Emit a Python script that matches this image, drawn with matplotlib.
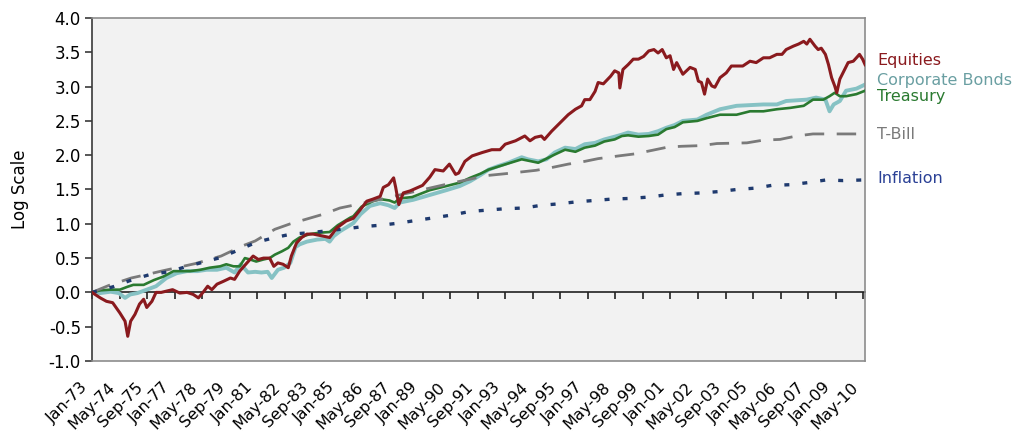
#!/usr/bin/env python3
"""
Cumulative log returns, Jan-73 .. mid-2010
Equities / Corporate Bonds / Treasury / T-Bill / Inflation
"""

import numpy as np
import matplotlib
matplotlib.use("Agg")
import matplotlib.pyplot as plt
from matplotlib.transforms import ScaledTranslation, blended_transform_factory

FIG = "out.png"
START = 1973.0   # first month on the axis (Jan-73)

# ------------------------------------------------------------------ #
# DATA  (decimal year, log value)                  #
# ------------------------------------------------------------------ #
equities = [
    (1973.0, 0.00), (1973.4, -0.08), (1973.7, -0.13), (1974.0, -0.15),
    (1974.35, -0.30), (1974.6, -0.42), (1974.73, -0.64), (1974.87, -0.42),
    (1975.08, -0.32), (1975.3, -0.17), (1975.5, -0.10), (1975.65, -0.22),
    (1975.9, -0.13), (1976.1, 0.00), (1976.35, 0.00), (1976.9, 0.04),
    (1977.25, -0.01), (1977.6, 0.00), (1977.9, -0.03), (1978.15, -0.08),
    (1978.4, 0.01), (1978.6, 0.09), (1978.8, 0.04), (1979.05, 0.12),
    (1979.35, 0.16), (1979.7, 0.21), (1979.9, 0.19), (1980.15, 0.31),
    (1980.5, 0.43), (1980.8, 0.53), (1981.05, 0.48), (1981.3, 0.50),
    (1981.6, 0.50), (1981.8, 0.38), (1982.0, 0.43), (1982.25, 0.41),
    (1982.5, 0.36), (1982.65, 0.53), (1982.9, 0.72), (1983.15, 0.80),
    (1983.4, 0.85), (1983.7, 0.85), (1984.2, 0.82), (1984.5, 0.80),
    (1984.85, 0.94), (1985.3, 1.04), (1985.65, 1.08), (1986.0, 1.21),
    (1986.3, 1.33), (1986.6, 1.36), (1986.95, 1.40), (1987.1, 1.53),
    (1987.35, 1.57), (1987.6, 1.67), (1987.7, 1.53), (1987.85, 1.28),
    (1988.07, 1.45), (1988.4, 1.48), (1988.7, 1.52), (1989.0, 1.56),
    (1989.35, 1.68), (1989.6, 1.79), (1990.0, 1.77), (1990.3, 1.87),
    (1990.6, 1.72), (1990.75, 1.74), (1991.05, 1.91), (1991.4, 1.99),
    (1991.9, 2.04), (1992.35, 2.08), (1992.75, 2.08), (1993.0, 2.16),
    (1993.5, 2.21), (1993.95, 2.28), (1994.2, 2.21), (1994.45, 2.26),
    (1994.75, 2.28), (1994.9, 2.23), (1995.25, 2.35), (1995.65, 2.47),
    (1996.05, 2.59), (1996.4, 2.67), (1996.7, 2.72), (1996.85, 2.81),
    (1997.1, 2.81), (1997.35, 2.93), (1997.5, 3.06), (1997.75, 3.04),
    (1998.1, 3.15), (1998.3, 3.23), (1998.5, 3.20), (1998.55, 2.98),
    (1998.7, 3.25), (1998.95, 3.32), (1999.2, 3.40), (1999.45, 3.40),
    (1999.7, 3.44), (1999.95, 3.52), (2000.2, 3.54), (2000.4, 3.49),
    (2000.6, 3.54), (2000.8, 3.42), (2000.98, 3.45), (2001.15, 3.25),
    (2001.3, 3.35), (2001.6, 3.18), (2001.95, 3.28), (2002.2, 3.25),
    (2002.35, 3.08), (2002.5, 3.06), (2002.65, 2.89), (2002.8, 3.11),
    (2003.0, 3.01), (2003.15, 2.99), (2003.4, 3.13), (2003.7, 3.20),
    (2003.95, 3.30), (2004.3, 3.30), (2004.5, 3.30), (2004.85, 3.37),
    (2005.15, 3.35), (2005.5, 3.42), (2005.8, 3.42), (2006.15, 3.47),
    (2006.4, 3.47), (2006.6, 3.54), (2006.95, 3.59), (2007.2, 3.62),
    (2007.45, 3.66), (2007.6, 3.62), (2007.75, 3.69), (2008.0, 3.59),
    (2008.15, 3.54), (2008.3, 3.56), (2008.5, 3.47), (2008.65, 3.32),
    (2008.8, 3.13), (2008.95, 3.01), (2009.05, 2.91), (2009.2, 3.11),
    (2009.35, 3.20), (2009.6, 3.35), (2009.85, 3.37), (2010.0, 3.42),
    (2010.15, 3.47), (2010.3, 3.40), (2010.42, 3.32),
]

corporate = [
    (1973.0, 0.00), (1973.4, -0.01), (1973.9, 0.01), (1974.3, -0.01),
    (1974.6, -0.08), (1974.85, -0.03), (1975.2, -0.01), (1975.65, 0.04),
    (1976.1, 0.09), (1976.6, 0.21), (1977.1, 0.28), (1977.6, 0.31),
    (1978.1, 0.31), (1978.55, 0.33), (1979.05, 0.33), (1979.5, 0.36),
    (1979.9, 0.29), (1980.2, 0.41), (1980.55, 0.29), (1980.9, 0.30),
    (1981.2, 0.29), (1981.5, 0.30), (1981.7, 0.21), (1982.0, 0.33),
    (1982.3, 0.36), (1982.6, 0.43), (1982.85, 0.66), (1983.05, 0.70),
    (1983.4, 0.74), (1983.9, 0.77), (1984.3, 0.78), (1984.5, 0.74),
    (1984.7, 0.82), (1985.0, 0.89), (1985.65, 1.01), (1986.0, 1.14),
    (1986.45, 1.26), (1986.95, 1.30), (1987.35, 1.27), (1987.65, 1.23),
    (1987.9, 1.31), (1988.55, 1.35), (1989.35, 1.42), (1990.15, 1.49),
    (1990.8, 1.55), (1991.3, 1.62), (1991.8, 1.71), (1992.2, 1.79),
    (1992.65, 1.84), (1993.15, 1.89), (1993.8, 1.97), (1994.1, 1.94),
    (1994.6, 1.91), (1995.0, 1.94), (1995.4, 2.04), (1995.9, 2.11),
    (1996.4, 2.09), (1996.85, 2.16), (1997.35, 2.18), (1997.8, 2.23),
    (1998.3, 2.27), (1998.65, 2.30), (1998.95, 2.33), (1999.45, 2.30),
    (1999.95, 2.31), (2000.4, 2.35), (2000.8, 2.40), (2001.2, 2.44),
    (2001.6, 2.50), (2002.3, 2.52), (2002.75, 2.59), (2003.4, 2.67),
    (2004.2, 2.72), (2004.85, 2.73), (2005.5, 2.74), (2006.15, 2.74),
    (2006.6, 2.79), (2007.1, 2.80), (2007.6, 2.81), (2008.05, 2.84),
    (2008.5, 2.81), (2008.7, 2.64), (2008.9, 2.74), (2009.2, 2.79),
    (2009.5, 2.94), (2010.0, 2.97), (2010.42, 3.03),
]

treasury = [
    (1973.0, 0.00), (1973.4, 0.03), (1973.9, 0.04), (1974.35, 0.04),
    (1974.7, 0.08), (1975.0, 0.11), (1975.5, 0.11), (1976.0, 0.18),
    (1976.45, 0.23), (1976.95, 0.31), (1977.35, 0.31), (1977.75, 0.31),
    (1978.25, 0.33), (1978.7, 0.36), (1979.2, 0.38), (1979.5, 0.41),
    (1979.85, 0.38), (1980.15, 0.38), (1980.4, 0.50), (1980.65, 0.48),
    (1980.95, 0.45), (1981.3, 0.48), (1981.6, 0.50), (1981.85, 0.55),
    (1982.2, 0.60), (1982.5, 0.65), (1982.75, 0.74), (1983.05, 0.80),
    (1983.55, 0.85), (1984.0, 0.87), (1984.5, 0.88), (1984.9, 0.98),
    (1985.5, 1.09), (1985.65, 1.11), (1986.05, 1.25), (1986.6, 1.33),
    (1986.95, 1.36), (1987.4, 1.34), (1987.65, 1.31), (1987.9, 1.37),
    (1988.5, 1.39), (1989.35, 1.49), (1990.15, 1.55), (1990.8, 1.60),
    (1991.3, 1.67), (1991.8, 1.73), (1992.2, 1.79), (1993.15, 1.88),
    (1993.8, 1.94), (1994.6, 1.89), (1995.4, 2.01), (1995.9, 2.08),
    (1996.4, 2.05), (1996.85, 2.11), (1997.35, 2.14), (1997.8, 2.20),
    (1998.3, 2.23), (1998.65, 2.28), (1998.95, 2.29), (1999.45, 2.27),
    (1999.95, 2.28), (2000.4, 2.30), (2000.8, 2.38), (2001.2, 2.41),
    (2001.6, 2.48), (2002.3, 2.50), (2002.75, 2.54), (2003.4, 2.59),
    (2004.2, 2.59), (2004.85, 2.64), (2005.5, 2.64), (2006.15, 2.67),
    (2006.8, 2.69), (2007.45, 2.72), (2007.9, 2.81), (2008.4, 2.81),
    (2008.7, 2.86), (2008.95, 2.91), (2009.2, 2.86), (2009.5, 2.86),
    (2010.0, 2.89), (2010.42, 2.94),
]

tbill = [
    (1973.0, 0.00), (1973.8, 0.10), (1974.9, 0.21), (1975.65, 0.26),
    (1976.35, 0.31), (1977.1, 0.36), (1978.0, 0.42), (1979.25, 0.53),
    (1980.3, 0.68), (1980.9, 0.75), (1981.85, 0.92), (1982.6, 1.00),
    (1983.4, 1.07), (1984.2, 1.14), (1985.0, 1.23), (1985.8, 1.28),
    (1987.45, 1.39), (1989.05, 1.50), (1990.5, 1.60), (1991.3, 1.65),
    (1992.0, 1.70), (1993.0, 1.73), (1994.5, 1.78), (1995.25, 1.82),
    (1996.05, 1.87), (1996.85, 1.91), (1997.5, 1.95), (1998.5, 1.99),
    (1999.3, 2.02), (2000.1, 2.07), (2000.9, 2.12), (2001.55, 2.13),
    (2002.5, 2.14), (2003.25, 2.17), (2004.7, 2.18), (2005.5, 2.22),
    (2006.3, 2.23), (2007.1, 2.28), (2007.9, 2.31), (2008.7, 2.31),
    (2010.42, 2.31),
]

inflation = [
    (1973.0, 0.00), (1974.0, 0.08), (1975.0, 0.19), (1975.8, 0.26),
    (1976.7, 0.30), (1977.5, 0.37), (1979.25, 0.51), (1980.95, 0.73),
    (1981.85, 0.80), (1982.65, 0.85), (1983.55, 0.87), (1984.45, 0.90),
    (1985.35, 0.93), (1986.15, 0.96), (1987.0, 0.98), (1987.85, 1.01),
    (1988.7, 1.05), (1989.6, 1.09), (1990.45, 1.13), (1991.3, 1.18),
    (1993.0, 1.22), (1993.9, 1.23), (1994.75, 1.27), (1995.55, 1.29),
    (1996.45, 1.32), (1997.3, 1.34), (1998.15, 1.36), (1999.05, 1.37),
    (1999.95, 1.39), (2000.75, 1.42), (2001.6, 1.44), (2002.5, 1.45),
    (2003.35, 1.47), (2004.2, 1.50), (2005.1, 1.52), (2005.9, 1.56),
    (2006.8, 1.57), (2007.65, 1.60), (2008.55, 1.64), (2009.35, 1.63),
    (2010.42, 1.64),
]

tick_labels = [
    "Jan-73", "May-74", "Sep-75", "Jan-77", "May-78", "Sep-79", "Jan-81",
    "May-82", "Sep-83", "Jan-85", "May-86", "Sep-87", "Jan-89", "May-90",
    "Sep-91", "Jan-93", "May-94", "Sep-95", "Jan-97", "May-98", "Sep-99",
    "Jan-01", "May-02", "Sep-03", "Jan-05", "May-06", "Sep-07", "Jan-09",
    "May-10",
]
n_months = 450            # Jan-73 .. Jun-10
tick_step = 16            # one label every 16 months

# ------------------------------------------------------------------ #
# STYLE                                                              #
# ------------------------------------------------------------------ #
# name, data, line colour, label colour, lw, dashes, zorder, label y
styles = [
    ("Corporate Bonds", corporate, "#86C2C4", "#6A9FA2", 2.8, None, 2, 3.02),
    ("Treasury",        treasury,  "#2A7A30", "#2A7A30", 1.9, None, 3, 2.79),
    ("T-Bill",          tbill,     "#7A7A7A", "#7A7A7A", 2.0, (14, 9), 4, 2.24),
    ("Inflation",       inflation, "#1F3A6E", "#2B4196", 2.4, (3.6, 9.4), 5, 1.60),
    ("Equities",        equities,  "#8A1A1E", "#8A1A1E", 2.2, None, 6, 3.32),
]

plt.rcParams["lines.scale_dashes"] = False
plt.rcParams["font.family"] = "DejaVu Sans"

W, H = 1026, 434
fig = plt.figure(figsize=(W / 100, H / 100), dpi=100)
ax = fig.add_axes([92 / W, 1 - 361 / H, 773 / W, 343 / H])
ax.set_facecolor("#F2F2F2")
for s in ax.spines.values():
    s.set_color("#8C8C8C")
    s.set_linewidth(1.2)
ax.spines["left"].set_color("#3A3A3A")

lbl_tr = blended_transform_factory(ax.transAxes, ax.transData)
for name, data, col, tcol, lw, dash, z, ly in styles:
    yrs, vals = zip(*data)
    months = (np.array(yrs) - START) * 12
    kw = dict(color=col, lw=lw, zorder=z, solid_joinstyle="round")
    if dash:
        kw["dashes"] = dash
    ax.plot(months, vals, **kw)
    ax.text(1.0155, ly, name, transform=lbl_tr, color=tcol,
            fontsize=11.5, va="baseline", ha="left", clip_on=False)

# ---- axes ---------------------------------------------------------
ax.set_xlim(0, n_months - 1)
ax.set_ylim(-1, 4)
yt = np.arange(-1, 4.01, 0.5)
ax.set_yticks(yt, [f"{v:.1f}" for v in yt])
ax.tick_params(axis="y", direction="out", length=5, width=1.2,
               color="#3A3A3A", labelsize=12, pad=3)

xt = np.arange(len(tick_labels)) * tick_step
ax.set_xticks(xt, tick_labels, rotation=45, ha="right", va="center",
              rotation_mode="anchor", fontsize=11.5)
ax.tick_params(axis="x", length=0, pad=17)
shift = ScaledTranslation(-0.07, 0, fig.dpi_scale_trans)
for lab in ax.get_xticklabels():
    lab.set_transform(lab.get_transform() + shift)

# horizontal axis line crosses at zero, ticks hang below it
zero = ax.secondary_xaxis(1 / 5)
zero.set_xticks(xt, [""] * len(xt))
zero.tick_params(length=5, width=1.2, color="#222222", direction="out")
zero.spines["bottom"].set_color("#222222")
zero.spines["bottom"].set_linewidth(1.2)

ax.set_ylabel("Log Scale", fontsize=12)
ax.yaxis.set_label_coords(-0.082, 0.5)

fig.savefig(FIG, dpi=100)
print("saved", FIG)
